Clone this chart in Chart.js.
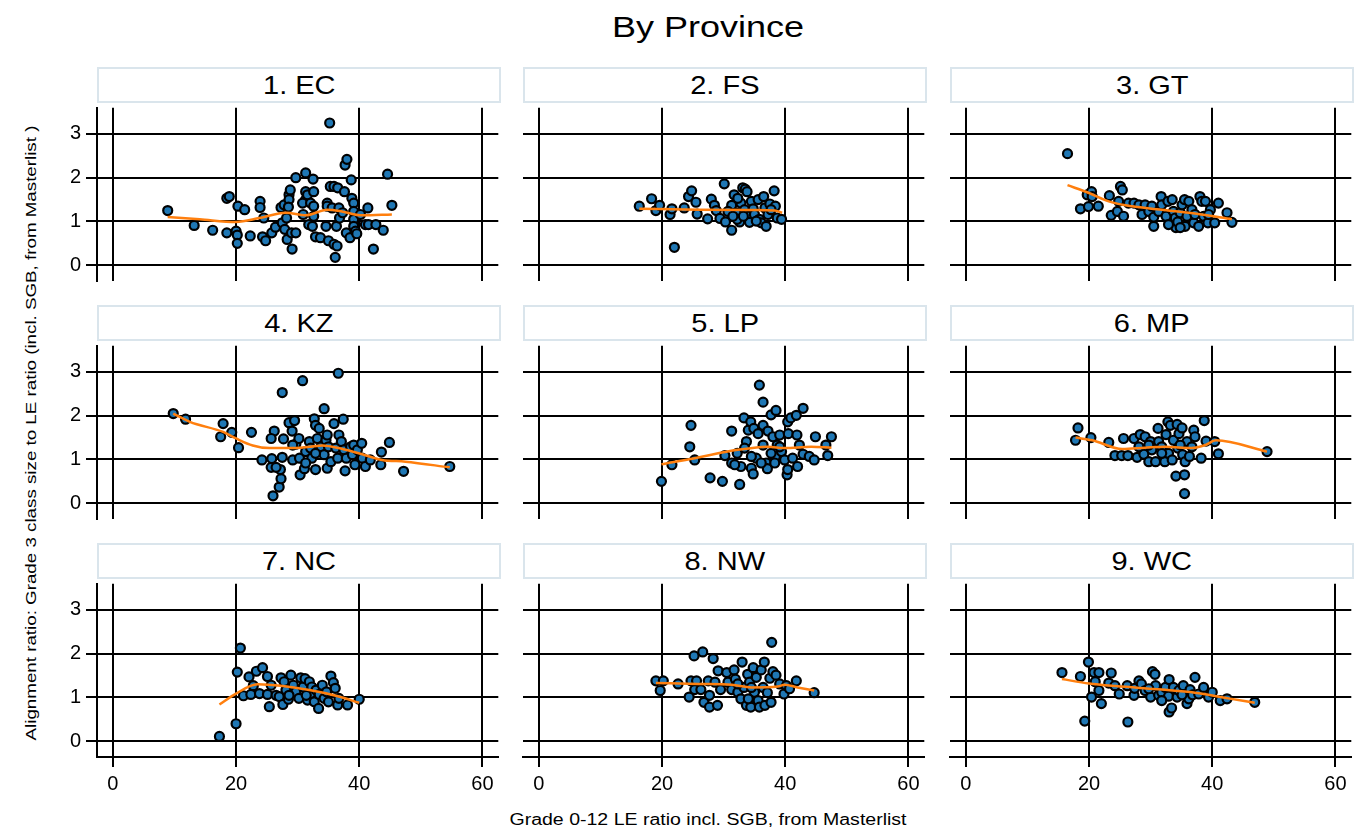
<!DOCTYPE html>
<html>
<head>
<meta charset="utf-8">
<title>By Province</title>
<script src="https://cdn.jsdelivr.net/npm/chart.js@4.4.1/dist/chart.umd.min.js"></script>
<style>
  body { margin: 0; background: #fff; }
  #page { position: relative; width: 1367px; height: 830px; overflow: hidden; font-family: "Liberation Sans", Arial, sans-serif; color: #000; }
  .hdr { position: absolute; box-sizing: border-box; border: 2px solid #dae5ec; background: #fff; text-align: center; font-size: 25px; line-height: 32px; }
  .hdr span { display: inline-block; transform: scaleX(1.16); }
  .txt { position: absolute; white-space: nowrap; }
  canvas { position: absolute; }
</style>
</head>
<body>
<div id="page">
  <div class="txt" style="left:708px; top:27px; font-size:30px; transform: translate(-50%, -50%) scaleX(1.2);">By Province</div>
  <div class="txt" style="left:708px; top:820px; font-size:16px; transform: translate(-50%, -50%) scaleX(1.22);">Grade 0-12 LE ratio incl. SGB, from Masterlist</div>
  <div class="txt" style="left:30px; top:433px; font-size:15px; transform: translate(-50%, -50%) rotate(-90deg) scaleX(1.25);">Alignment ratio: Grade 3 class size to LE ratio (incl. SGB, from Masterlist )</div>
</div>
<script>
// panel labels
const provinces = ['1. EC', '2. FS', '3. GT', '4. KZ', '5. LP', '6. MP', '7. NC', '8. NW', '9. WC'];
const xTicks = [0, 20, 40, 60];
const yTicks = [0, 1, 2, 3];

// Eastern Cape
const ecX = [8.9, 13.2, 16.2, 18.5, 18.9, 18.5, 20.0, 20.2, 20.2, 20.3, 21.4, 22.3, 23.9, 23.9, 24.3, 24.5, 24.8, 25.8, 26.4, 27.3, 27.5, 27.8, 27.9, 28.3, 28.6, 28.8, 28.6, 28.5, 28.2, 29.1, 29.0, 29.7, 29.7, 31.3, 30.9, 31.3, 31.3, 31.6, 30.8, 32.1, 31.8, 32.4, 32.5, 32.6, 32.6, 32.6, 32.9, 33.7, 34.8, 34.8, 34.6, 35.0, 35.2, 35.3, 35.9, 35.6, 35.9, 36.1, 36.3, 36.4, 36.5, 36.7, 36.8, 37.3, 37.6, 37.7, 38.0, 37.9, 38.5, 38.7, 38.8, 39.1, 39.1, 39.1, 39.1, 39.4, 39.6, 40.2, 41.0, 41.4, 41.5, 42.3, 42.7, 43.9, 44.6, 45.3];
const ecY = [1.25, 0.91, 0.80, 1.53, 1.57, 0.74, 0.78, 0.69, 0.50, 1.35, 1.27, 0.67, 1.46, 1.32, 0.65, 1.08, 0.56, 0.74, 0.87, 1.32, 0.97, 1.38, 0.82, 0.59, 1.61, 1.72, 1.50, 1.33, 1.08, 0.37, 0.74, 0.74, 2.00, 2.11, 1.16, 1.68, 1.50, 1.61, 1.42, 1.42, 0.93, 0.89, 1.97, 1.68, 1.35, 1.12, 0.65, 0.63, 1.42, 1.35, 0.89, 0.56, 3.25, 1.80, 1.80, 1.31, 0.48, 0.18, 0.89, 0.44, 1.77, 1.31, 1.08, 1.20, 1.68, 2.29, 2.42, 0.74, 0.63, 1.95, 1.53, 1.42, 1.23, 1.05, 0.89, 0.78, 0.72, 1.16, 0.93, 1.31, 0.93, 0.37, 0.93, 0.80, 2.08, 1.37];
const ecFitX = [8.9, 14.1, 20.0, 23.8, 28.1, 31.3, 34.8, 37.2, 40.4, 45.3];
const ecFitY = [1.10, 1.05, 0.99, 1.08, 1.20, 1.14, 1.27, 1.23, 1.14, 1.16];

// Free State
const fsX = [16.3, 18.3, 19.0, 19.6, 21.3, 21.6, 22.0, 23.6, 24.3, 24.8, 25.5, 25.7, 27.4, 28.0, 28.5, 28.8, 29.4, 30.1, 30.3, 31.3, 31.3, 31.7, 32.1, 32.6, 32.8, 33.1, 33.4, 33.5, 33.8, 34.0, 34.2, 34.5, 34.8, 35.0, 35.6, 35.8, 36.1, 36.5, 36.7, 36.9, 37.2, 37.5, 38.2, 38.4, 38.7, 39.4, 32.2, 33.2, 30.7, 31.5, 32.3, 35.3, 37.7];
const fsY = [1.35, 1.52, 1.25, 1.37, 1.16, 1.29, 0.41, 1.31, 1.57, 1.70, 1.44, 1.17, 1.06, 1.51, 1.37, 1.25, 1.07, 1.86, 0.99, 0.80, 1.37, 1.61, 1.20, 0.99, 1.42, 1.77, 1.27, 1.74, 1.68, 1.12, 0.98, 1.46, 1.29, 1.16, 1.50, 1.05, 0.97, 1.57, 1.31, 0.89, 1.16, 1.40, 1.70, 1.35, 1.08, 1.05, 1.05, 1.12, 1.23, 1.12, 1.53, 1.01, 1.27];
const fsFitX = [16.3, 25.9, 34.5, 38.3, 39.5];
const fsFitY = [1.29, 1.27, 1.26, 1.25, 1.20];

// Gauteng
const gtX = [16.5, 18.6, 19.7, 19.9, 20.4, 20.5, 21.5, 23.3, 23.6, 24.6, 25.1, 25.4, 25.6, 24.8, 26.4, 27.3, 28.1, 28.6, 29.1, 29.7, 30.2, 30.5, 30.5, 31.3, 31.7, 31.8, 32.5, 32.8, 33.5, 33.7, 34.0, 34.1, 34.4, 34.8, 35.1, 35.5, 35.6, 35.9, 36.2, 36.7, 37.0, 37.2, 37.8, 38.0, 38.3, 38.6, 38.9, 39.3, 39.7, 40.4, 41.0, 42.4, 43.2, 39.4, 32.9, 34.8];
const gtY = [2.55, 1.29, 1.61, 1.34, 1.68, 1.57, 1.35, 1.59, 1.14, 1.23, 1.80, 1.72, 1.12, 1.46, 1.42, 1.42, 1.38, 1.16, 1.38, 1.23, 1.35, 0.89, 1.10, 1.23, 1.57, 1.38, 1.12, 1.46, 1.50, 1.23, 1.08, 0.86, 0.99, 1.20, 1.38, 1.50, 0.89, 1.12, 1.46, 1.27, 0.97, 1.16, 0.89, 1.57, 1.46, 1.12, 1.46, 0.97, 1.27, 0.97, 1.42, 1.20, 0.98, 1.16, 0.93, 0.86];
const gtFitX = [16.5, 20.0, 23.2, 25.9, 31.8, 37.2, 43.2];
const gtFitY = [1.83, 1.65, 1.46, 1.37, 1.27, 1.18, 1.05];

// KwaZulu-Natal
const kzX = [9.8, 11.8, 17.9, 17.5, 19.3, 20.4, 22.5, 24.2, 25.7, 25.8, 26.0, 26.2, 25.7, 27.0, 27.3, 27.2, 27.5, 27.5, 27.7, 28.6, 29.1, 29.5, 29.2, 29.7, 30.2, 30.3, 30.4, 30.8, 31.1, 31.3, 31.9, 32.1, 32.3, 32.7, 32.9, 32.9, 33.2, 33.5, 33.8, 34.3, 34.3, 34.6, 34.8, 35.0, 35.4, 35.9, 36.2, 36.5, 36.6, 36.7, 37.1, 37.4, 37.5, 37.7, 37.9, 38.6, 38.9, 39.1, 39.3, 39.7, 40.4, 40.5, 41.0, 41.8, 43.5, 43.6, 44.9, 47.2, 54.7, 26.5, 34.8, 32.9, 31.3, 29.2];
const kzY = [2.05, 1.92, 1.82, 1.52, 1.62, 1.27, 1.62, 0.99, 0.82, 1.02, 0.17, 1.65, 1.48, 0.37, 0.56, 0.77, 1.05, 2.53, 1.47, 1.84, 1.65, 1.89, 0.99, 1.35, 1.48, 1.03, 0.65, 2.80, 0.79, 1.18, 1.41, 1.26, 1.03, 1.93, 0.77, 1.78, 1.48, 1.71, 1.29, 2.16, 1.11, 1.44, 0.80, 1.29, 0.95, 1.82, 1.26, 1.03, 2.97, 1.56, 1.41, 1.92, 1.22, 0.74, 1.03, 1.29, 1.11, 1.33, 0.88, 1.22, 1.37, 1.03, 0.84, 0.99, 0.88, 1.17, 1.39, 0.73, 0.84, 0.82, 1.56, 1.14, 0.92, 1.33];
const kzFitX = [9.8, 12.5, 17.9, 20.0, 22.7, 25.4, 28.6, 31.9, 34.0, 37.3, 40.5, 43.7, 47.5, 54.7];
const kzFitY = [2.05, 1.86, 1.63, 1.48, 1.32, 1.26, 1.26, 1.29, 1.32, 1.24, 1.12, 0.99, 0.95, 0.82];

// Limpopo
const lpX = [19.9, 21.6, 24.7, 24.5, 25.3, 27.8, 29.8, 30.2, 31.3, 31.3, 32.2, 32.6, 32.8, 33.3, 33.7, 34.0, 34.4, 34.5, 34.8, 34.9, 35.3, 35.6, 35.8, 36.4, 36.4, 36.4, 36.9, 37.2, 37.1, 37.7, 38.0, 38.5, 38.4, 38.7, 39.1, 39.4, 39.9, 40.3, 40.4, 40.4, 40.5, 40.9, 41.2, 41.8, 41.9, 42.0, 42.3, 42.9, 42.9, 43.9, 44.7, 44.9, 46.6, 46.9, 47.5, 33.4, 34.5, 36.1, 38.3, 39.1, 37.7, 31.8];
const lpY = [0.50, 0.88, 1.78, 1.29, 0.99, 0.58, 0.50, 1.09, 1.65, 0.92, 1.14, 0.43, 0.84, 1.95, 1.41, 1.67, 1.86, 0.80, 0.67, 1.71, 1.03, 1.59, 2.70, 2.31, 1.78, 1.33, 0.92, 1.65, 0.79, 2.02, 1.52, 2.12, 1.07, 1.33, 1.56, 1.18, 0.99, 0.65, 0.77, 1.86, 1.59, 1.95, 1.03, 2.01, 1.56, 0.84, 1.33, 2.17, 1.12, 1.07, 0.99, 1.52, 1.33, 1.09, 1.52, 1.26, 1.07, 0.92, 0.92, 1.29, 1.14, 0.88];
const lpFitX = [19.9, 25.3, 28.0, 32.3, 35.0, 37.2, 39.9, 44.2, 47.5];
const lpFitY = [0.89, 1.03, 1.11, 1.22, 1.27, 1.29, 1.26, 1.29, 1.27];

// Mpumalanga
const mpX = [18.2, 17.8, 20.3, 23.2, 24.2, 25.3, 25.6, 26.3, 27.3, 27.8, 28.3, 28.9, 29.1, 29.7, 30.0, 30.2, 30.8, 31.2, 31.3, 31.8, 32.3, 32.5, 32.8, 32.9, 33.2, 33.5, 33.7, 34.1, 34.3, 34.4, 34.6, 35.1, 35.2, 35.5, 35.5, 35.6, 35.9, 36.3, 36.7, 37.0, 37.2, 38.2, 38.7, 39.0, 40.4, 41.0, 48.9, 31.8, 29.7, 34.8, 28.1];
const mpY = [1.72, 1.44, 1.50, 1.39, 1.09, 1.09, 1.48, 1.09, 1.48, 1.05, 1.57, 1.12, 1.52, 0.95, 1.41, 1.22, 0.95, 1.71, 1.41, 1.29, 0.95, 1.57, 1.86, 1.14, 1.78, 0.99, 1.44, 0.62, 1.80, 1.26, 1.59, 1.72, 1.11, 0.65, 0.22, 0.95, 1.41, 1.07, 1.29, 1.67, 1.52, 1.03, 1.89, 1.42, 1.41, 1.13, 1.18, 1.14, 1.33, 1.33, 1.29];
const mpFitX = [17.8, 20.5, 25.4, 29.1, 32.4, 36.7, 38.9, 40.6, 48.9];
const mpFitY = [1.50, 1.44, 1.24, 1.27, 1.29, 1.26, 1.33, 1.44, 1.18];

// Northern Cape
const ncX = [17.3, 20.0, 20.2, 20.7, 21.2, 22.1, 22.4, 22.8, 23.3, 23.8, 24.3, 25.1, 25.1, 25.4, 25.7, 26.5, 27.0, 27.3, 27.6, 27.8, 28.1, 28.5, 28.9, 29.3, 29.7, 30.2, 30.5, 30.9, 31.2, 31.6, 31.9, 32.1, 32.3, 32.7, 33.0, 33.4, 33.5, 34.0, 34.3, 34.7, 35.0, 35.4, 35.8, 36.1, 36.5, 36.7, 38.1, 40.0, 28.6, 31.4];
const ncY = [0.11, 0.40, 1.58, 2.13, 1.04, 1.47, 1.07, 1.27, 1.60, 1.09, 1.68, 1.48, 1.07, 0.79, 1.28, 1.05, 1.02, 1.45, 0.84, 1.36, 1.17, 0.96, 1.51, 1.28, 1.12, 0.98, 1.45, 1.24, 1.43, 0.94, 1.36, 1.09, 1.24, 0.90, 1.17, 0.75, 1.07, 1.28, 0.98, 1.13, 0.90, 1.49, 1.34, 1.21, 0.83, 0.98, 0.83, 0.96, 1.05, 1.05];
const ncFitX = [17.3, 20.0, 23.5, 27.6, 31.9, 36.2, 40.0];
const ncFitY = [0.84, 1.09, 1.30, 1.26, 1.17, 1.04, 0.88];

// North West
const nwX = [19.0, 20.2, 19.7, 22.6, 24.4, 24.7, 25.2, 25.6, 25.3, 26.3, 26.6, 26.8, 27.5, 27.7, 27.7, 28.3, 28.6, 29.0, 29.1, 29.5, 30.5, 30.7, 31.3, 31.7, 31.9, 32.3, 32.8, 33.0, 33.3, 33.7, 33.9, 34.2, 34.4, 34.8, 35.0, 35.3, 35.6, 35.8, 36.1, 36.4, 36.6, 36.7, 37.1, 37.5, 37.7, 37.8, 38.0, 38.5, 39.1, 39.8, 40.2, 40.7, 41.8, 44.7, 32.3, 34.5, 34.0];
const nwY = [1.38, 1.38, 1.16, 1.31, 1.01, 1.38, 1.95, 1.38, 1.18, 1.18, 2.04, 0.89, 1.38, 1.05, 0.78, 1.89, 1.35, 0.82, 1.61, 1.18, 1.57, 1.35, 1.18, 1.63, 1.42, 1.12, 0.97, 1.81, 1.23, 0.82, 1.53, 1.35, 0.78, 1.68, 1.12, 1.46, 0.93, 0.78, 1.63, 1.23, 1.81, 0.82, 1.11, 1.44, 0.89, 2.26, 1.59, 1.51, 1.31, 1.08, 1.27, 1.20, 1.38, 1.11, 1.31, 1.23, 0.97];
const nwFitX = [19.0, 25.9, 31.3, 34.5, 38.8, 39.9, 42.0, 44.7];
const nwFitY = [1.33, 1.31, 1.29, 1.23, 1.25, 1.29, 1.23, 1.16];

// Western Cape
const wcX = [15.6, 18.6, 19.3, 19.9, 20.4, 20.8, 21.0, 21.6, 21.6, 22.0, 23.2, 23.6, 24.2, 24.9, 26.2, 26.3, 27.3, 27.4, 28.1, 28.5, 29.1, 30.0, 30.3, 30.7, 30.8, 31.3, 31.8, 32.4, 32.9, 33.0, 33.0, 33.4, 33.7, 34.3, 34.6, 35.3, 35.9, 36.2, 36.4, 36.8, 37.2, 37.8, 38.6, 39.4, 40.0, 41.3, 42.4, 46.9, 29.7, 35.1, 31.8];
const wcY = [1.57, 1.48, 0.46, 1.81, 1.01, 1.57, 1.36, 1.57, 1.16, 0.86, 1.33, 1.56, 1.27, 1.08, 1.27, 0.44, 1.05, 1.21, 1.38, 1.31, 1.16, 1.01, 1.59, 1.53, 1.27, 1.05, 1.12, 1.23, 1.03, 1.41, 0.67, 0.76, 1.23, 1.01, 1.16, 1.27, 0.86, 0.97, 1.18, 1.06, 1.46, 1.08, 1.23, 1.01, 1.12, 0.93, 0.97, 0.89, 1.20, 1.06, 0.93];
const wcFitX = [15.6, 20.0, 24.3, 31.8, 37.2, 42.6, 46.9];
const wcFitY = [1.42, 1.32, 1.26, 1.18, 1.11, 0.98, 0.88];

const pointsX = [ecX, fsX, gtX, kzX, lpX, mpX, ncX, nwX, wcX];
const pointsY = [ecY, fsY, gtY, kzY, lpY, mpY, ncY, nwY, wcY];
const fitX = [ecFitX, fsFitX, gtFitX, kzFitX, lpFitX, mpFitX, ncFitX, nwFitX, wcFitX];
const fitY = [ecFitY, fsFitY, gtFitY, kzFitY, lpFitY, mpFitY, ncFitY, nwFitY, wcFitY];

// grid geometry
const colLeft = [97, 523, 950];
const rowTop = [105, 343, 581];
const plotW = 404, plotH = 176;
const axisW = 50, axisH = 50, pad = 4;

const page = document.getElementById('page');
const tickFont = { family: '"Liberation Sans", Arial, sans-serif', size: 20 };

function pairs(xs, ys) {
    return xs.map((x, i) => ({ x: x, y: ys[i] }));
}

provinces.forEach(function (name, i) {
    const row = Math.floor(i / 3), col = i % 3;
    const left = colLeft[col], top = rowTop[row];
    const firstCol = col === 0, lastRow = row === 2;

    const hdr = document.createElement('div');
    hdr.className = 'hdr';
    hdr.style.left = left + 'px';
    hdr.style.top = (top - 38) + 'px';
    hdr.style.width = plotW + 'px';
    hdr.style.height = '36px';
    const label = document.createElement('span');
    label.textContent = name;
    hdr.appendChild(label);
    page.appendChild(hdr);

    const canvas = document.createElement('canvas');
    canvas.width = axisW + plotW + pad;
    canvas.height = pad + plotH + axisH;
    canvas.style.left = (left - axisW) + 'px';
    canvas.style.top = (top - pad) + 'px';
    page.appendChild(canvas);

    new Chart(canvas.getContext('2d'),
    {
        type: 'scatter',
        data:
        {
            datasets: [{
                type: 'line',
                data: pairs(fitX[i], fitY[i]),
                borderColor: '#ff7f0e',
                borderWidth: 2.5,
                pointRadius: 0,
                fill: false,
                cubicInterpolationMode: 'monotone'
            }, {
                data: pairs(pointsX[i], pointsY[i]),
                backgroundColor: '#1f77b4',
                borderColor: '#000',
                borderWidth: 2.2,
                pointRadius: 4.5
            }]
        },
        options:
        {
            responsive: false,
            animation: false,
            devicePixelRatio: 1,
            layout: { padding: { top: pad, right: pad, left: 0, bottom: 0 } },
            plugins: {
                legend: { display: false },
                tooltip: { enabled: false }
            },
            scales: {
                x: {
                    type: 'linear',
                    min: -2.58,
                    max: 62.58,
                    afterBuildTicks: function (scale) { scale.ticks = xTicks.map(v => ({ value: v })); },
                    afterFit: function (scale) {
                        scale.height = axisH;
                        scale.paddingLeft = 0;
                        scale.paddingRight = 0;
                    },
                    grid: { color: '#000', lineWidth: 2, drawTicks: lastRow, tickLength: 10, tickColor: '#000' },
                    border: { display: lastRow, color: '#000', width: 2 },
                    ticks: { display: lastRow, color: '#000', font: tickFont, padding: 5, maxRotation: 0 }
                },
                y: {
                    type: 'linear',
                    min: -0.36,
                    max: 3.6,
                    afterBuildTicks: function (scale) { scale.ticks = yTicks.map(v => ({ value: v })); },
                    afterFit: function (scale) {
                        scale.width = axisW;
                        scale.paddingTop = 0;
                        scale.paddingBottom = 0;
                    },
                    grid: { color: '#000', lineWidth: 2, drawTicks: firstCol, tickLength: 11, tickColor: '#000' },
                    border: { display: firstCol, color: '#000', width: 2 },
                    ticks: { display: firstCol, color: '#000', font: tickFont, padding: 5 }
                }
            }
        }
    });
});
</script>
</body>
</html>
